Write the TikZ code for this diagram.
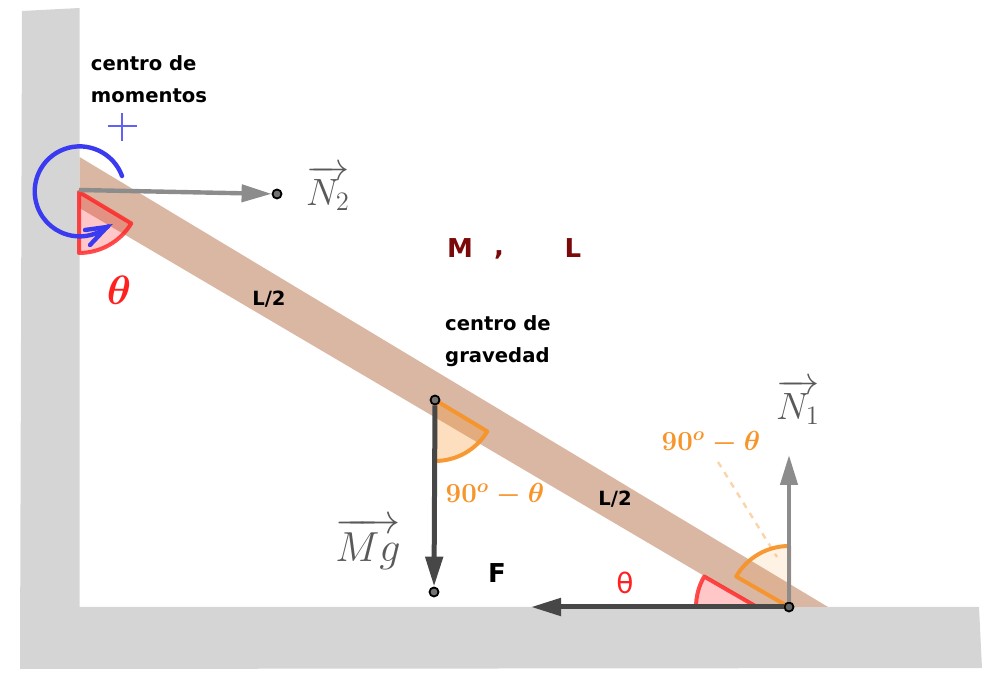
\documentclass[tikz,border=0pt]{standalone}
\usepackage{fix-cm}
\usepackage{fontspec}
\usepackage{amsmath}
\newfontfamily\labelfont{DejaVu Sans}
\usetikzlibrary{arrows.meta}
\definecolor{wallgray}{HTML}{D5D5D5}
\definecolor{barbrown}{HTML}{DAB7A3}
\definecolor{anglered}{HTML}{FF2020}
\definecolor{angleorange}{HTML}{F7942A}
\definecolor{momentblue}{HTML}{3A3AF0}
\definecolor{massred}{HTML}{7A0A0A}
\tikzset{
  dotnode/.style={circle, draw=black, fill=#1, line width=.9pt, inner sep=0pt, minimum size=4.5pt},
  forcelight/.style={draw=black!45, line width=2.2pt, -{Triangle[length=15pt,width=8.5pt,fill=black!45]}},
  forcedark/.style={draw=black!72, line width=2.5pt, -{Triangle[length=15pt,width=8.5pt,fill=black!72]}},
  redwedge/.style={draw=anglered, draw opacity=.8, fill=anglered, fill opacity=.25, line width=2pt, line join=round},
  orangewedge/.style={draw=angleorange, draw opacity=.95, fill=angleorange, fill opacity=.3, line width=2pt, line join=round},
  boldlabel/.style={font=\labelfont\bfseries\fontsize{9.8}{16}\selectfont, align=left, inner sep=0pt},
  vectorlabel/.style={text=black!65, inner sep=0pt, font=\fontsize{19}{21}\selectfont},
  orangelabel/.style={text=angleorange, inner sep=0pt, font=\fontsize{13.8}{16}\selectfont\boldmath},
}
\begin{document}
\begin{tikzpicture}[x=.5pt, y=.5pt]
\useasboundingbox (0,0) rectangle (1002,696);
% wall and floor
\fill[wallgray] (22,685) -- (79.5,688) -- (79.5,89) -- (979,89) -- (982,28) -- (20,27) -- cycle;
% bar
\fill[barbrown] (79.5,539) -- (828,89) -- (757,89) -- (79.5,488) -- cycle;
% angles
\draw[redwedge] (79,504) -- ++(-31:61) arc[start angle=-31, end angle=-90, radius=61] -- cycle;
\draw[redwedge] (757,89) -- ++(150:61) arc[start angle=150, end angle=180, radius=61] -- cycle;
\draw[orangewedge] (435,296) -- ++(-31:61) arc[start angle=-31, end angle=-90, radius=61] -- cycle;
\draw[orangewedge, fill opacity=.12] (789,89) -- ++(150:61) arc[start angle=150, end angle=90, radius=61] -- cycle;
% points
\node[dotnode=black!55] (ptop) at (277,502){};
\node[dotnode=black!55] (pmass) at (435,296){};
\node[dotnode=black!55] (pweight) at (434,104){};
\node[dotnode=white!40!black] (pfloor) at (789,89){};
\coordinate (cwall) at (79,506);
\coordinate (cnormal) at (789,241);
\coordinate (cfric) at (531,89);
\coordinate (cdashA) at (718,234);
\coordinate (cdashB) at (777,139);
% forces
\draw[forcelight](cwall) -- (ptop);
\draw[forcelight](pfloor) -- (cnormal);
\draw[forcedark](pmass) -- (pweight);
\draw[forcedark](pfloor) -- (cfric);
\draw[angleorange, opacity=.4, line width=1.2pt, dashed](cdashA) -- (cdashB);
% moment sign
\draw[momentblue, line width=2.2pt, line cap=round] (122,520) arc[start angle=20, end angle=309, radius=45];
\coordinate (ctip) at (107,469);
\draw[momentblue, line width=2.2pt, line cap=round] (85,466) -- (ctip) -- (90,451);
\draw[momentblue!80, line width=1.2pt] (108,570) -- (137,570);
\draw[momentblue!80, line width=1.2pt] (122,583) -- (122,555);
% labels
\node[boldlabel] (lmoment) at (149,617) {centro de\\momentos};
\node[boldlabel] (lgravity) at (498,355) {centro de\\gravedad};
\node[boldlabel] (lhalfA) at (269,397) {L/2};
\node[boldlabel] (lhalfB) at (615,197) {L/2};
\node[boldlabel, font=\labelfont\bfseries\fontsize{13}{16}\selectfont] (lfric) at (497,123) {F};
\node[boldlabel, text=massred, font=\labelfont\bfseries\fontsize{13}{16}\selectfont] (lmass) at (460,448) {M};
\node[boldlabel, text=massred, font=\labelfont\bfseries\fontsize{13}{16}\selectfont] (lcomma) at (499,441) {,};
\node[boldlabel, text=massred, font=\labelfont\bfseries\fontsize{13}{16}\selectfont] (llength) at (573,448) {L};
\node[inner sep=0pt, text=anglered, font=\labelfont\fontsize{14}{16}\selectfont] (lthetaB) at (625,113) {θ};
\node[inner sep=0pt, text=anglered, font=\fontsize{20.5}{22}\selectfont\boldmath] (lthetaA) at (119,406) {$\theta$};
\node[vectorlabel] (lntwo) at (328,508) {$\overrightarrow{N_2}$};
\node[vectorlabel] (lnone) at (798,294) {$\overrightarrow{N_1}$};
\node[vectorlabel, font=\fontsize{21}{23}\selectfont] (lmg) at (368,152) {$\overrightarrow{Mg}$};
\node[orangelabel] (langleA) at (495,201) {$\mathbf{90}^{\boldsymbol{o}}-\theta$};
\node[orangelabel] (langleB) at (711,253) {$\mathbf{90}^{\boldsymbol{o}}-\theta$};
\end{tikzpicture}
\end{document}
